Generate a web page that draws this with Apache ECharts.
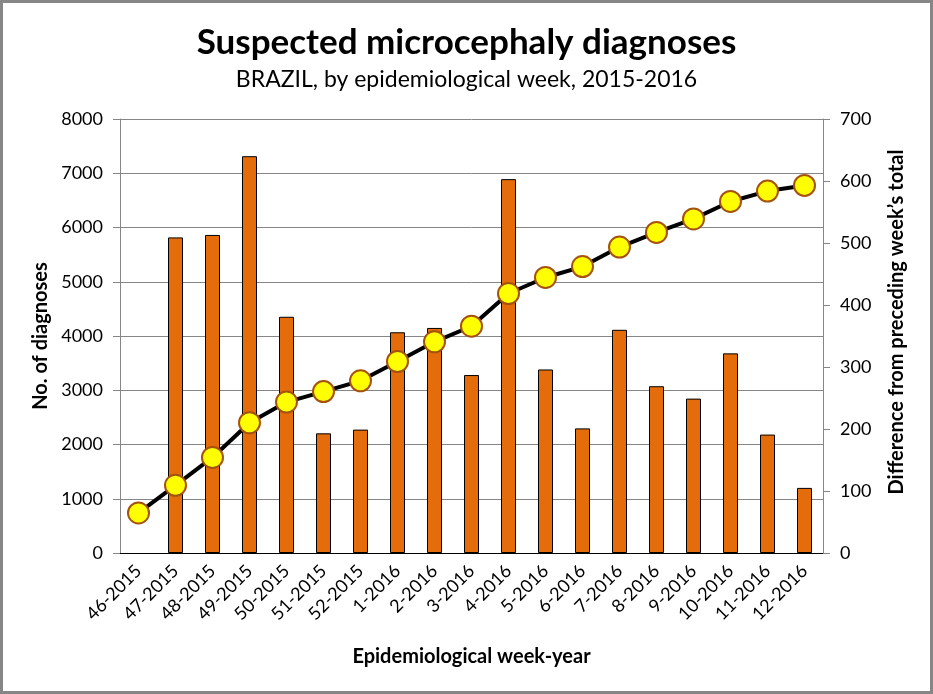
<!DOCTYPE html>
<html>
<head>
<meta charset="utf-8">
<script src="https://cdn.jsdelivr.net/npm/echarts@6/dist/echarts.min.js"></script>
<style>
  html, body { margin: 0; padding: 0; background: #fff; }
  #chart { width: 933px; height: 694px; }
</style>
</head>
<body>
<div id="chart"></div>
<script>
const weeks = ['46-2015', '47-2015', '48-2015', '49-2015', '50-2015', '51-2015', '52-2015',
  '1-2016', '2-2016', '3-2016', '4-2016', '5-2016', '6-2016', '7-2016', '8-2016',
  '9-2016', '10-2016', '11-2016', '12-2016']
// cumulative suspected cases (left axis)
const cumulative = [739, 1248, 1761, 2401, 2782, 2975, 3174, 3530, 3893, 4180, 4783,
  5079, 5280, 5640, 5909, 6158, 6480, 6671, 6776]
// weekly increase (right axis), none for the first week
const weeklyDiff = ['-', 509, 513, 640, 381, 193, 199, 356, 363, 287, 603,
  296, 201, 360, 269, 249, 322, 191, 105]

const font = 'Lato, "Open Sans", sans-serif'
const grey = '#868686'
const plain = v => String(v)

const myChart = echarts.init(document.getElementById('chart'))
myChart.setOption({
  animation: false,
  textStyle: { fontFamily: font },
  title: [{
    text: 'Suspected microcephaly diagnoses',
    left: 'center',
    top: 20,
    textStyle: { fontFamily: font, fontSize: 35, fontWeight: 'bold', color: '#000' }
  }, {
    text: 'BRAZIL, by epidemiological week, 2015-2016',
    left: 'center',
    top: 63,
    textStyle: { fontFamily: font, fontSize: 23, fontWeight: 'normal', color: '#000' }
  }],
  graphic: [{
    type: 'rect',
    shape: { x: 1.5, y: 1.5, width: 930, height: 691 },
    style: { fill: 'none', stroke: grey, lineWidth: 3 },
    silent: true
  }],
  grid: { left: 120, right: 110, top: 119, bottom: 141 },
  xAxis: [{
    type: 'category',
    data: weeks,
    name: 'Epidemiological week-year',
    nameLocation: 'middle',
    nameGap: 94,
    nameTextStyle: { fontSize: 20, fontWeight: 'bold', color: '#000' },
    axisLine: { lineStyle: { color: '#000', width: 1 } },
    axisTick: { length: 6, lineStyle: { color: '#000' } },
    axisLabel: { rotate: 45, fontSize: 18, color: '#000', margin: 15, interval: 0 }
  }, {
    type: 'category',
    data: weeks,
    position: 'top',
    axisLine: { show: true, lineStyle: { color: '#000', width: 1 } },
    axisTick: { show: false },
    axisLabel: { show: false }
  }],
  yAxis: [{
    type: 'value',
    min: 0,
    max: 8000,
    interval: 1000,
    name: 'No. of diagnoses',
    nameLocation: 'middle',
    nameRotate: 90,
    nameGap: 68,
    nameTextStyle: { fontSize: 20, fontWeight: 'bold', color: '#000' },
    axisLine: { show: true, lineStyle: { color: grey } },
    axisTick: { show: true, length: 7, lineStyle: { color: grey } },
    axisLabel: { fontSize: 18, color: '#000', margin: 17, formatter: plain },
    splitLine: { show: true, lineStyle: { color: grey, width: 1 } }
  }, {
    type: 'value',
    min: 0,
    max: 700,
    interval: 100,
    position: 'right',
    name: 'Difference from preceding week\u2019s total',
    nameLocation: 'middle',
    nameRotate: 90,
    nameGap: 64,
    nameTextStyle: { fontSize: 20, fontWeight: 'bold', color: '#000', padding: [0, 0, 0, 28] },
    axisLine: { show: true, lineStyle: { color: grey } },
    axisTick: { show: true, length: 7, lineStyle: { color: grey } },
    axisLabel: { fontSize: 18, color: '#000', margin: 17, formatter: plain },
    splitLine: { show: false }
  }],
  series: [{
    name: 'Difference from preceding week',
    type: 'bar',
    yAxisIndex: 1,
    data: weeklyDiff,
    barWidth: 15,
    itemStyle: { color: '#E46C0A', borderColor: '#000', borderWidth: 1 }
  }, {
    name: 'No. of diagnoses',
    type: 'line',
    yAxisIndex: 0,
    data: cumulative,
    z: 5,
    symbol: 'circle',
    symbolSize: 21,
    lineStyle: { color: '#000', width: 4 },
    itemStyle: { color: '#FFFF00', borderColor: '#A5520F', borderWidth: 2 }
  }]
})
</script>
</body>
</html>
